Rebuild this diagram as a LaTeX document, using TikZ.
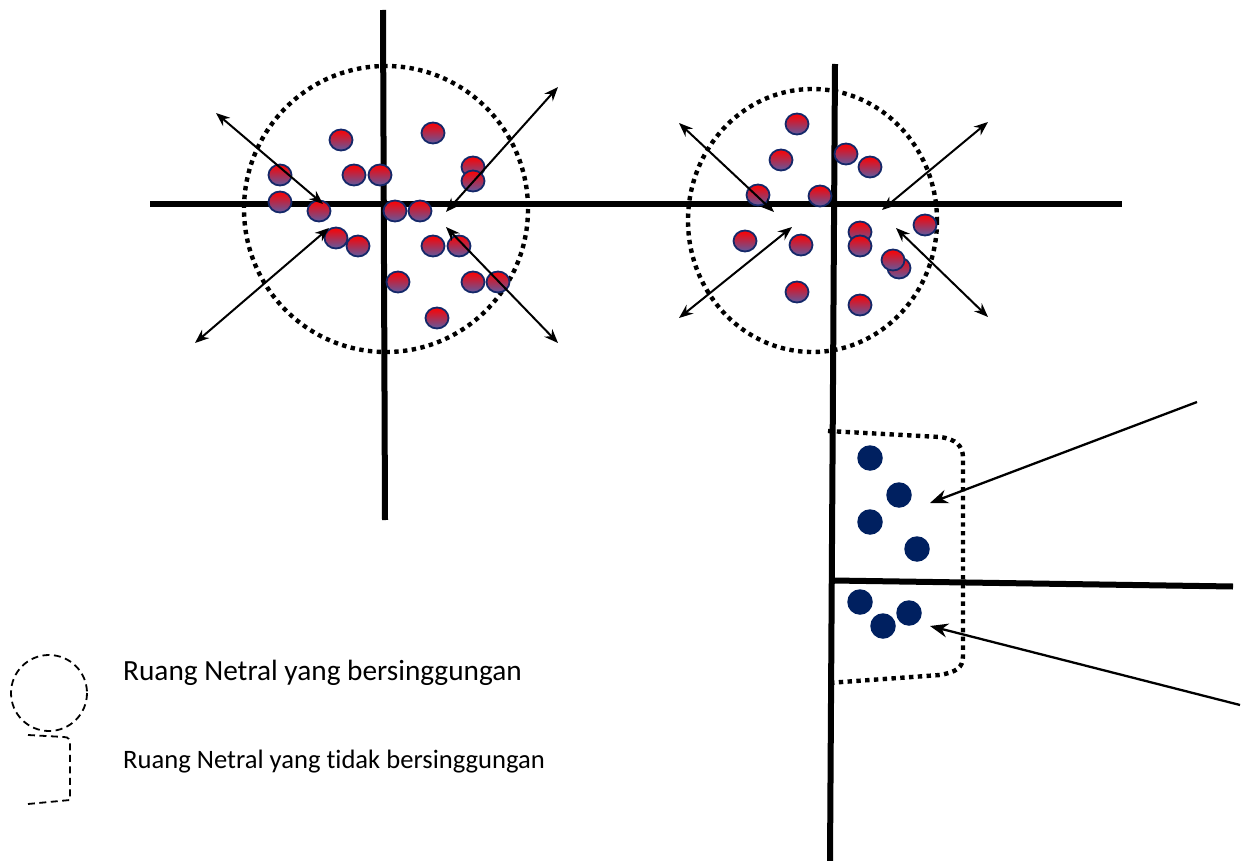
\documentclass[tikz,border=0pt]{standalone}
\usepackage{fontspec}
\setmainfont{Carlito}[Ligatures=CommonOff]
\usetikzlibrary{arrows.meta,shapes.geometric}
\definecolor{dotnavy}{RGB}{0,32,96}
\definecolor{rimblue}{RGB}{20,40,105}
\definecolor{dotlow}{RGB}{96,90,160}
\tikzset{
  axis/.style={line width=6pt},
  dotring/.style={line width=4.4pt, dash pattern=on 4.4pt off 4.4pt},
  rdot/.style={ellipse, minimum width=23pt, minimum height=21pt, inner sep=0pt,
     draw=rimblue, line width=1.8pt, top color=red, bottom color=dotlow},
  ndot/.style={circle, minimum size=25.5pt, inner sep=0pt, fill=dotnavy},
  dbl/.style={line width=2pt, {Stealth[length=14pt,width=11pt]}-{Stealth[length=14pt,width=11pt]}},
  sgl/.style={line width=2.3pt, -{Stealth[length=18pt,width=14pt]}},
  legline/.style={line width=1.8pt, dash pattern=on 7pt off 4.5pt},
  legtext/.style={anchor=base west, inner sep=0pt}
}
\begin{document}
\begin{tikzpicture}[x=1pt,y=-1pt]
\useasboundingbox (0,0) rectangle (1242,861);
% axes
\draw[axis] (150,204) -- (1122,204);
\draw[axis] (383,10) -- (385,520);
\draw[axis] (835,64) -- (830,861);
\draw[axis] (833,580.5) -- (1233,586.5);
% dotted neutral spaces
\draw[dotring] (386,209) ellipse [x radius=142, y radius=143];
\draw[dotring] (812.5,220.5) ellipse [x radius=124.5, y radius=131.5];
\draw[dotring] (828,431) -- (940,437) .. controls (956,439) and (963,446) .. (963,458)
   -- (963,656) .. controls (963,668) and (956,672) .. (940,675) -- (828,683);
% left red dots
\foreach \n/\x/\y in {a1/341/140, a2/433/133, a3/280/175, a4/354/175, a5/380/175,
   a6/473/167, a7/473/181, a8/280/202, a9/319/211, a10/395/211, a11/420/211,
   a12/336/238, a13/358/246, a14/433/246, a15/459/246, a16/398/282, a17/473/282,
   a18/498/282, a19/437/318}
  \node[rdot] (\n) at (\x,\y) {};
% right red dots
\foreach \n/\x/\y in {b1/797/124, b2/781/160, b3/846/154, b4/870/167, b5/758/195,
   b6/820/196, b7/745/241, b8/801/245, b9/860/232, b10/860/246, b11/925/225,
   b12/899/268, b13/893/260, b14/797/292, b15/860/305}
  \node[rdot] (\n) at (\x,\y) {};
% navy dots
\foreach \n/\x/\y in {c1/870/458, c2/899/495, c3/870/522, c4/917/549,
   c5/860/602, c6/883/626, c7/909/613}
  \node[ndot] (\n) at (\x,\y) {};
% arrow end points
\coordinate (la1) at (216,113); \coordinate (la2) at (323,204);
\coordinate (lb1) at (195,343); \coordinate (lb2) at (329,228);
\coordinate (lc1) at (558,87);  \coordinate (lc2) at (446,212);
\coordinate (ld1) at (558,343); \coordinate (ld2) at (446,227);
\coordinate (ra1) at (679,123); \coordinate (ra2) at (774,212);
\coordinate (rb1) at (679,318); \coordinate (rb2) at (792,227);
\coordinate (rc1) at (988,122); \coordinate (rc2) at (882,210);
\coordinate (rd1) at (988,317); \coordinate (rd2) at (896,228);
\coordinate (sa1) at (1197,402); \coordinate (sa2) at (930,503);
\coordinate (sb1) at (1240,705); \coordinate (sb2) at (930,626);
\draw[dbl] (la1) -- (la2);
\draw[dbl] (lb1) -- (lb2);
\draw[dbl] (lc1) -- (lc2);
\draw[dbl] (ld1) -- (ld2);
\draw[dbl] (ra1) -- (ra2);
\draw[dbl] (rb1) -- (rb2);
\draw[dbl] (rc1) -- (rc2);
\draw[dbl] (rd1) -- (rd2);
\draw[sgl] (sa1) -- (sa2);
\draw[sgl] (sb1) -- (sb2);
% legend
\draw[legline] (49,693) circle [radius=38];
\draw[legline] (28,735) -- (64,737) .. controls (69,737) and (70,740) .. (70,744)
   -- (70,800) -- (28,804);
\node[legtext, font=\fontsize{29.3}{34}\selectfont] (t1) at (123,680) {Ruang Netral yang bersinggungan};
\node[legtext, font=\fontsize{26.6}{31}\selectfont] (t2) at (123,768) {Ruang Netral yang tidak bersinggungan};
\end{tikzpicture}
\end{document}
